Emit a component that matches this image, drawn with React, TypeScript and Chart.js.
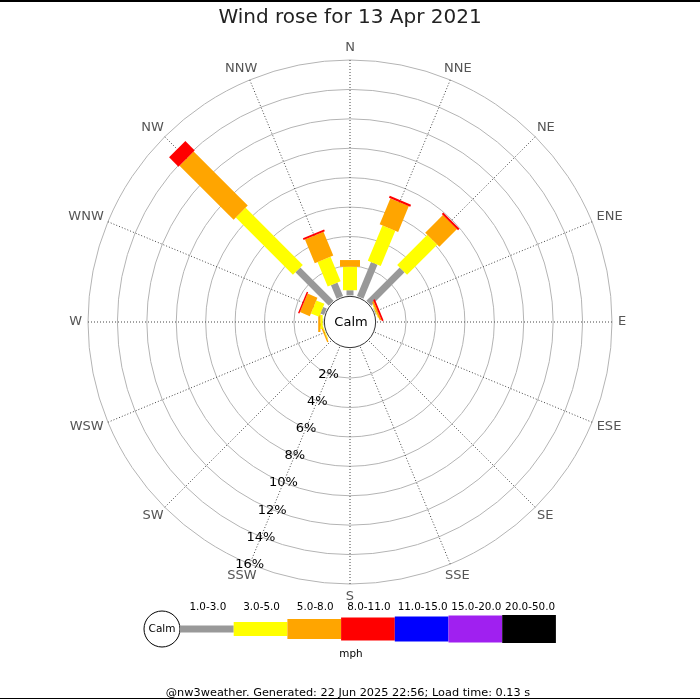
import { useEffect, useRef } from 'react';
import { Chart, registerables } from 'chart.js';

Chart.register(...registerables);

const DIRECTIONS = ['N', 'NNE', 'NE', 'ENE', 'E', 'ESE', 'SE', 'SSE', 'S', 'SSW', 'SW', 'WSW', 'W', 'WNW', 'NW', 'NNW'];
const BAND_LABELS = ['1.0-3.0', '3.0-5.0', '5.0-8.0', '8.0-11.0', '11.0-15.0', '15.0-20.0', '20.0-50.0'];
const BAND_COLORS = ['#999999', '#ffff00', '#ffa500', '#ff0000', '#0000ff', '#a020f0', '#000000'];

// percentage of time per direction, per speed band (mph)
const SPEED_1_3 = [0.35, 2.5, 3.2, 0.05, 0, 0, 0, 0, 0, 0, 0, 0, 0.05, 0.27, 3.2, 1.0];
const SPEED_3_5 = [1.6, 2.6, 2.9, 0.05, 0, 0, 0, 0, 0, 0, 0, 0.05, 0.15, 0.6, 5.5, 1.8];
const SPEED_5_8 = [0.45, 1.9, 1.7, 0.12, 0, 0, 0, 0, 0, 0, 0, 0.1, 0.15, 0.72, 5.2, 1.75];
const SPEED_8_11 = [0, 0.15, 0.13, 0.12, 0, 0, 0, 0, 0, 0, 0, 0, 0, 0.1, 0.9, 0.12];
const SPEED_11_15 = [0, 0, 0, 0, 0, 0, 0, 0, 0, 0, 0, 0, 0, 0, 0, 0];
const SPEED_15_20 = [0, 0, 0, 0, 0, 0, 0, 0, 0, 0, 0, 0, 0, 0, 0, 0];
const SPEED_20_50 = [0, 0, 0, 0, 0, 0, 0, 0, 0, 0, 0, 0, 0, 0, 0, 0];
const BANDS = [SPEED_1_3, SPEED_3_5, SPEED_5_8, SPEED_8_11, SPEED_11_15, SPEED_15_20, SPEED_20_50];

const TICK_VALUES = [2, 4, 6, 8, 10, 12, 14, 16];
const TICK_LABELS = ['2%', '4%', '6%', '8%', '10%', '12%', '14%', '16%'];
const CALM_OFFSET = -1.81; // value at the scale centre, leaves room for the calm circle
const MAX_VALUE = 16;

const TITLE = 'Wind rose for 13 Apr 2021';
const CALM_LABEL = 'Calm';
const UNIT_LABEL = 'mph';
const FOOTER = '@nw3weather. Generated: 22 Jun 2025 22:56; Load time: 0.13 s';

const BAR_WIDTHS = [7, 14, 20, 23, 25, 27, 28];
const FONT = '"DejaVu Sans", sans-serif';

const windRosePlugin = {
  id: 'windRose',
  beforeDatasetsDraw(chart: any) {
    const s = chart.scales.r;
    const ctx = chart.ctx;
    const rc = s.getDistanceFromCenterForValue(0) - 1;
    ctx.save();
    ctx.beginPath();
    ctx.arc(s.xCenter, s.yCenter, rc, 0, Math.PI * 2);
    ctx.fillStyle = '#ffffff';
    ctx.fill();
    ctx.strokeStyle = '#333333';
    ctx.lineWidth = 1;
    ctx.stroke();
    ctx.fillStyle = '#000000';
    ctx.font = `13px ${FONT}`;
    ctx.textAlign = 'center';
    ctx.textBaseline = 'middle';
    ctx.fillText(CALM_LABEL, s.xCenter + 1, s.yCenter + 1);
    ctx.restore();
  },
  afterDatasetsDraw(chart: any) {
    const s = chart.scales.r;
    const ctx = chart.ctx;
    const datasets = chart.data.datasets;
    const n = chart.data.labels.length;
    for (let i = 0; i < n; i++) {
      let cum = 0;
      const angle = s.getIndexAngle(i);
      datasets.forEach((ds: any, b: number) => {
        const v = ds.data[i] || 0;
        if (v <= 0) return;
        const r0 = s.getDistanceFromCenterForValue(cum);
        const r1 = s.getDistanceFromCenterForValue(cum + v);
        const w = BAR_WIDTHS[b];
        ctx.save();
        ctx.translate(s.xCenter, s.yCenter);
        ctx.rotate(angle);
        ctx.fillStyle = ds.backgroundColor;
        ctx.fillRect(-w / 2, -r1, w, r1 - r0);
        ctx.restore();
        cum += v;
      });
    }
  },
  afterDraw(chart: any) {
    const s = chart.scales.r;
    const ctx = chart.ctx;
    const W = chart.width;
    const H = chart.height;
    ctx.save();

    // direction labels
    ctx.font = `13px ${FONT}`;
    ctx.fillStyle = '#555555';
    ctx.textAlign = 'center';
    ctx.textBaseline = 'middle';
    const labels = chart.data.labels;
    labels.forEach((lab: string, i: number) => {
      const a = s.getIndexAngle(i);
      const p = s.getPointPosition(i, s.drawingArea + 6);
      const tw = ctx.measureText(lab).width;
      const cx = p.x + (tw / 2) * Math.sin(a);
      const cy = p.y - 6.5 * Math.cos(a);
      ctx.fillText(lab, cx, cy);
    });

    // ring labels along SSW
    const tickIdx = DIRECTIONS.indexOf('SSW');
    ctx.fillStyle = '#000000';
    TICK_VALUES.forEach((v, k) => {
      const p = s.getPointPosition(tickIdx, s.getDistanceFromCenterForValue(v));
      ctx.fillText(TICK_LABELS[k], p.x, p.y + 0.5);
    });

    // legend
    const legY = 629;
    const calmX = 162;
    const calmR = 18;
    ctx.beginPath();
    ctx.arc(calmX, legY, calmR, 0, Math.PI * 2);
    ctx.fillStyle = '#ffffff';
    ctx.fill();
    ctx.strokeStyle = '#000000';
    ctx.lineWidth = 1;
    ctx.stroke();
    ctx.fillStyle = '#000000';
    ctx.font = `10.5px ${FONT}`;
    ctx.fillText(CALM_LABEL, calmX, legY);
    const boxW = 53.7;
    const x0 = calmX + calmR;
    chart.data.datasets.forEach((ds: any, b: number) => {
      const bx = x0 + b * boxW;
      const h = BAR_WIDTHS[b];
      ctx.fillStyle = ds.backgroundColor;
      ctx.fillRect(bx, legY - h / 2, boxW, h);
      ctx.fillStyle = '#000000';
      ctx.font = `10.4px ${FONT}`;
      ctx.fillText(ds.label, bx + boxW / 2 + 1, 607);
    });
    ctx.fillText(UNIT_LABEL, W / 2 + 1, 654);

    // footer
    ctx.font = `11.3px ${FONT}`;
    ctx.fillText(FOOTER, W / 2 - 2, 693);

    // frame lines
    ctx.fillStyle = '#000000';
    ctx.fillRect(0, 0, W, 2);
    ctx.fillRect(0, H - 2, W, 1);
    ctx.restore();
  },
};

export default function App() {
  const canvasRef = useRef<HTMLCanvasElement | null>(null);

  useEffect(() => {
    document.body.style.margin = '0';
    const canvas = canvasRef.current;
    if (!canvas) return;
    const chart = new Chart(canvas, {
      type: 'radar',
      data: {
        labels: DIRECTIONS,
        datasets: BANDS.map((vals, b) => ({
          label: BAND_LABELS[b],
          data: vals,
          backgroundColor: BAND_COLORS[b],
          borderColor: BAND_COLORS[b],
          borderWidth: 0,
          pointRadius: 0,
          pointHoverRadius: 0,
          pointHitRadius: 0,
          showLine: false,
          fill: false,
        })),
      },
      options: {
        animation: false,
        responsive: false,
        devicePixelRatio: 1,
        events: [],
        layout: { padding: { left: 88, right: 88, top: 0, bottom: 116 } },
        plugins: {
          legend: { display: false },
          tooltip: { enabled: false },
          title: {
            display: true,
            text: TITLE,
            color: '#222222',
            font: { family: FONT, size: 20, weight: 'normal', lineHeight: 1.2 },
            padding: { top: 6, bottom: 30 },
          },
        },
        scales: {
          r: {
            min: CALM_OFFSET,
            max: MAX_VALUE,
            startAngle: 0,
            afterBuildTicks: (scale: any) => {
              scale.ticks = TICK_VALUES.map((value) => ({ value }));
            },
            ticks: { display: false },
            grid: { circular: true, color: '#b4b4b4', lineWidth: 1 },
            angleLines: { display: true, color: '#444444', lineWidth: 1, borderDash: [1, 2] },
            pointLabels: { display: false },
          },
        },
      } as any,
      plugins: [windRosePlugin],
    });
    return () => chart.destroy();
  }, []);

  return (
    <div style={{ position: 'absolute', left: 0, top: 0, width: 700, height: 700 }}>
      <canvas ref={canvasRef} width={700} height={700} style={{ display: 'block' }} />
    </div>
  );
}
